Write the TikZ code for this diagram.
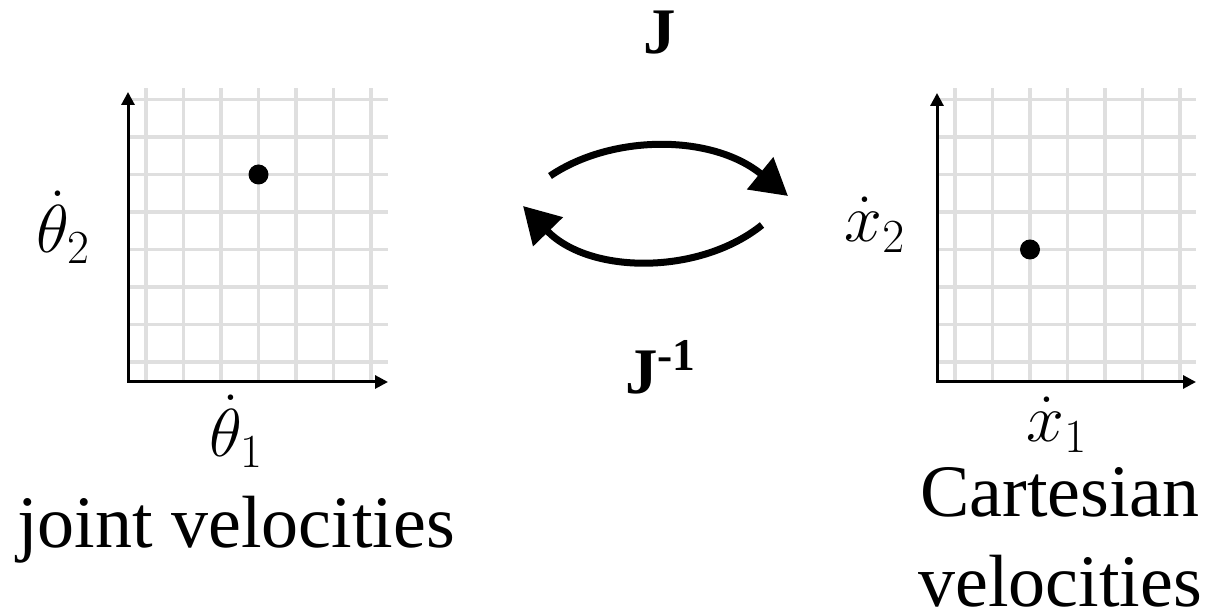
\RequirePackage{fix-cm}
\documentclass[tikz,border=0pt]{standalone}
\usepackage{graphicx}
\usepackage[no-math]{fontspec}
\setmainfont{Liberation Serif}
\usetikzlibrary{positioning,arrows.meta}
\newcommand{\axmath}[1]{\scalebox{1.17}{$#1$}}
\tikzset{
  gridline/.style={draw=gray!25,line width=1.8pt,xstep=18.75pt,ystep=18.75pt},
  axis/.style={draw,{Triangle[length=6.5pt,width=6.5pt]}-{Triangle[length=6.5pt,width=6.5pt]},line width=1.5pt},
  pointdot/.style={circle,fill,inner sep=0pt,minimum size=10pt},
  axislabel/.style={font=\fontsize{29}{35}\selectfont,inner sep=0pt,anchor=base},
  spacelabel/.style={font=\fontsize{37}{45}\selectfont,inner sep=0pt,anchor=base},
  maplabel/.style={font=\fontsize{32.5}{39}\selectfont\bfseries,inner sep=0pt,anchor=base},
  maparrow/.style={draw,-{Triangle[length=18pt,width=20pt]},line width=3.5pt},
}

\begin{document}
\begin{tikzpicture}[x=0.5pt,y=0.5pt]
\useasboundingbox (0,0) rectangle (1206,614);

% joint space
\begin{scope}[shift={(146,252)}]
\draw[gridline] (-18,-20) grid (242,274);
\coordinate (O1) at (-18,-20);
\coordinate (Y1) at (-18,270);
\coordinate (X1) at (242,-20);
\draw[axis] (Y1) -- (O1) -- (X1);
\node[pointdot] (P1) at (112.5,187.5) {};
\end{scope}

% cartesian space
\begin{scope}[shift={(955,252)}]
\draw[gridline] (-18,-20) grid (241,274);
\coordinate (O2) at (-18,-20);
\coordinate (Y2) at (-18,269);
\coordinate (X2) at (241,-20);
\draw[axis] (Y2) -- (O2) -- (X2);
\node[pointdot] (P2) at (75,112.5) {};
\end{scope}

\node[axislabel] (th2) at (63,361) {\axmath{\dot\theta_2}};
\node[axislabel] (th1) at (236,157) {\axmath{\dot\theta_1}};
\node[spacelabel] (joint) at (236,66) {joint velocities};
\node[axislabel] (x2) at (875,372) {\axmath{\dot x_2}};
\node[axislabel] (x1) at (1057,172) {\axmath{\dot x_1}};
\node[spacelabel] (cart) at (1060,97) {Cartesian};
\node[spacelabel,below=45pt of cart.base,anchor=base] (vel) {velocities};

\node[maplabel] (J) at (660,560) {J};
\node[maplabel] (Jinv) at (661,220) {J\textsuperscript{-1}};

\coordinate (fwdS) at (550,438);
\coordinate (fwdE) at (788,418);
\coordinate (invS) at (762,389);
\coordinate (invE) at (523,408);
\draw[maparrow] (fwdS) .. controls (612,480) and (712,480) .. (fwdE);
\draw[maparrow] (invS) .. controls (700,339) and (590,339) .. (invE);

\end{tikzpicture}
\end{document}
